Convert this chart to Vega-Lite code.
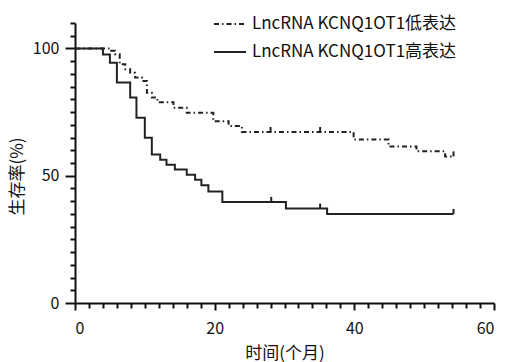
{
  "$schema": "https://vega.github.io/schema/vega-lite/v6.json",
  "width": 419,
  "height": 280,
  "autosize": "none",
  "padding": {"left": 75, "top": 23, "right": 11, "bottom": 59},
  "config": {
    "view": {"stroke": null},
    "font": "Noto Sans CJK SC",
    "axis": {"grid": false, "domainColor": "#111", "tickColor": "#111", "domainWidth": 2, "tickWidth": 2, "labelColor": "#111", "titleColor": "#111", "labelFont": "Noto Sans CJK SC", "titleFont": "Noto Sans CJK SC", "titleFontWeight": "normal", "labelOverlap": false}
  },
  "datasets": {
    "curves": [
      {"group": "LncRNA KCNQ1OT1低表达", "time": 0, "surv": 100},
      {"group": "LncRNA KCNQ1OT1低表达", "time": 5.0, "surv": 99.1},
      {"group": "LncRNA KCNQ1OT1低表达", "time": 5.7, "surv": 97.7},
      {"group": "LncRNA KCNQ1OT1低表达", "time": 6.4, "surv": 93.8},
      {"group": "LncRNA KCNQ1OT1低表达", "time": 7.2, "surv": 91.8},
      {"group": "LncRNA KCNQ1OT1低表达", "time": 7.9, "surv": 90.5},
      {"group": "LncRNA KCNQ1OT1低表达", "time": 8.6, "surv": 88.6},
      {"group": "LncRNA KCNQ1OT1低表达", "time": 9.6, "surv": 87.2},
      {"group": "LncRNA KCNQ1OT1低表达", "time": 10.3, "surv": 82.6},
      {"group": "LncRNA KCNQ1OT1低表达", "time": 11.0, "surv": 80.7},
      {"group": "LncRNA KCNQ1OT1低表达", "time": 11.8, "surv": 78.9},
      {"group": "LncRNA KCNQ1OT1低表达", "time": 14.1, "surv": 76.7},
      {"group": "LncRNA KCNQ1OT1低表达", "time": 16.0, "surv": 74.7},
      {"group": "LncRNA KCNQ1OT1低表达", "time": 19.8, "surv": 71.4},
      {"group": "LncRNA KCNQ1OT1低表达", "time": 22.0, "surv": 69.5},
      {"group": "LncRNA KCNQ1OT1低表达", "time": 23.9, "surv": 67.2},
      {"group": "LncRNA KCNQ1OT1低表达", "time": 39.9, "surv": 64.2},
      {"group": "LncRNA KCNQ1OT1低表达", "time": 44.9, "surv": 61.5},
      {"group": "LncRNA KCNQ1OT1低表达", "time": 48.9, "surv": 59.6},
      {"group": "LncRNA KCNQ1OT1低表达", "time": 53.0, "surv": 57.6},
      {"group": "LncRNA KCNQ1OT1低表达", "time": 54.2, "surv": 57.6},
      {"group": "LncRNA KCNQ1OT1高表达", "time": 0, "surv": 100},
      {"group": "LncRNA KCNQ1OT1高表达", "time": 4.0, "surv": 97.6},
      {"group": "LncRNA KCNQ1OT1高表达", "time": 5.0, "surv": 94.4},
      {"group": "LncRNA KCNQ1OT1高表达", "time": 6.0, "surv": 86.6},
      {"group": "LncRNA KCNQ1OT1高表达", "time": 7.9, "surv": 80.7},
      {"group": "LncRNA KCNQ1OT1高表达", "time": 8.8, "surv": 72.8},
      {"group": "LncRNA KCNQ1OT1高表达", "time": 10.0, "surv": 64.9},
      {"group": "LncRNA KCNQ1OT1高表达", "time": 11.0, "surv": 58.3},
      {"group": "LncRNA KCNQ1OT1高表达", "time": 12.2, "surv": 56.3},
      {"group": "LncRNA KCNQ1OT1高表达", "time": 13.1, "surv": 54.3},
      {"group": "LncRNA KCNQ1OT1高表达", "time": 14.3, "surv": 52.4},
      {"group": "LncRNA KCNQ1OT1高表达", "time": 16.0, "surv": 50.4},
      {"group": "LncRNA KCNQ1OT1高表达", "time": 17.2, "surv": 48.4},
      {"group": "LncRNA KCNQ1OT1高表达", "time": 18.1, "surv": 46.3},
      {"group": "LncRNA KCNQ1OT1高表达", "time": 19.1, "surv": 43.8},
      {"group": "LncRNA KCNQ1OT1高表达", "time": 21.1, "surv": 39.7},
      {"group": "LncRNA KCNQ1OT1高表达", "time": 30.2, "surv": 37.1},
      {"group": "LncRNA KCNQ1OT1高表达", "time": 36.1, "surv": 35.0},
      {"group": "LncRNA KCNQ1OT1高表达", "time": 54.2, "surv": 35.0}
    ],
    "censor": [
      {"group": "LncRNA KCNQ1OT1低表达", "time": 28.0, "surv": 67.2},
      {"group": "LncRNA KCNQ1OT1低表达", "time": 35.1, "surv": 67.2},
      {"group": "LncRNA KCNQ1OT1低表达", "time": 54.2, "surv": 57.6},
      {"group": "LncRNA KCNQ1OT1高表达", "time": 28.1, "surv": 39.7},
      {"group": "LncRNA KCNQ1OT1高表达", "time": 35.1, "surv": 37.1},
      {"group": "LncRNA KCNQ1OT1高表达", "time": 54.2, "surv": 35.0}
    ]
  },
  "layer": [
    {
      "data": {"name": "curves"},
      "mark": {"type": "line", "interpolate": "step-after", "strokeWidth": 2, "color": "#222"},
      "encoding": {
        "x": {"field": "time", "type": "quantitative", "scale": {"domain": [0, 60], "nice": false},
          "axis": {"values": [0,2,4,6,8,10,12,14,16,18,20,22,24,26,28,30,32,34,36,38,40,42,44,46,48,50,52,54,56,58,60],
            "tickCount": 100, "format": "d",
            "labelExpr": "datum.value % 20 === 0 ? datum.label : ''",
            "tickSize": {"condition": {"test": "datum.value % 20 === 0", "value": 7}, "value": 5},
            "labelOverlap": false, "labelFontSize": 16, "labelPadding": 10, "title": "时间(个月)", "titleFontSize": 17, "titlePadding": 9}},
        "y": {"field": "surv", "type": "quantitative", "scale": {"domain": [0, 110], "nice": false},
          "axis": {"values": [0,5,10,15,20,25,30,35,40,45,50,55,60,65,70,75,80,85,90,95,100,105,110],
            "tickCount": 100, "format": "d",
            "labelExpr": "datum.value % 50 === 0 ? datum.label : ''",
            "tickSize": {"condition": {"test": "datum.value % 50 === 0", "value": 10}, "value": 5},
            "labelOverlap": false, "labelFontSize": 16, "labelPadding": 6, "title": "生存率(%)", "titleFontSize": 17, "titleY": 153, "titlePadding": 6}},
        "strokeDash": {"field": "group", "type": "nominal",
          "scale": {"domain": ["LncRNA KCNQ1OT1低表达", "LncRNA KCNQ1OT1高表达"], "range": [[5, 3, 1.5, 3], [1, 0]]},
          "legend": {"orient": "none", "legendX": 138, "legendY": -16, "title": null, "symbolType": "stroke", "symbolSize": 1024, "symbolStrokeWidth": 2, "symbolStrokeColor": "#222", "labelFontSize": 17, "labelColor": "#111", "labelFont": "Noto Sans CJK SC", "labelLimit": 0, "rowPadding": 3, "labelOffset": 5}}
      }
    },
    {
      "data": {"name": "censor"},
      "mark": {"type": "point", "shape": "M0,0L0,-1", "size": 100, "filled": false, "stroke": "#222", "strokeWidth": 2, "opacity": 1},
      "encoding": {
        "x": {"field": "time", "type": "quantitative"},
        "y": {"field": "surv", "type": "quantitative"}
      }
    }
  ]
}
